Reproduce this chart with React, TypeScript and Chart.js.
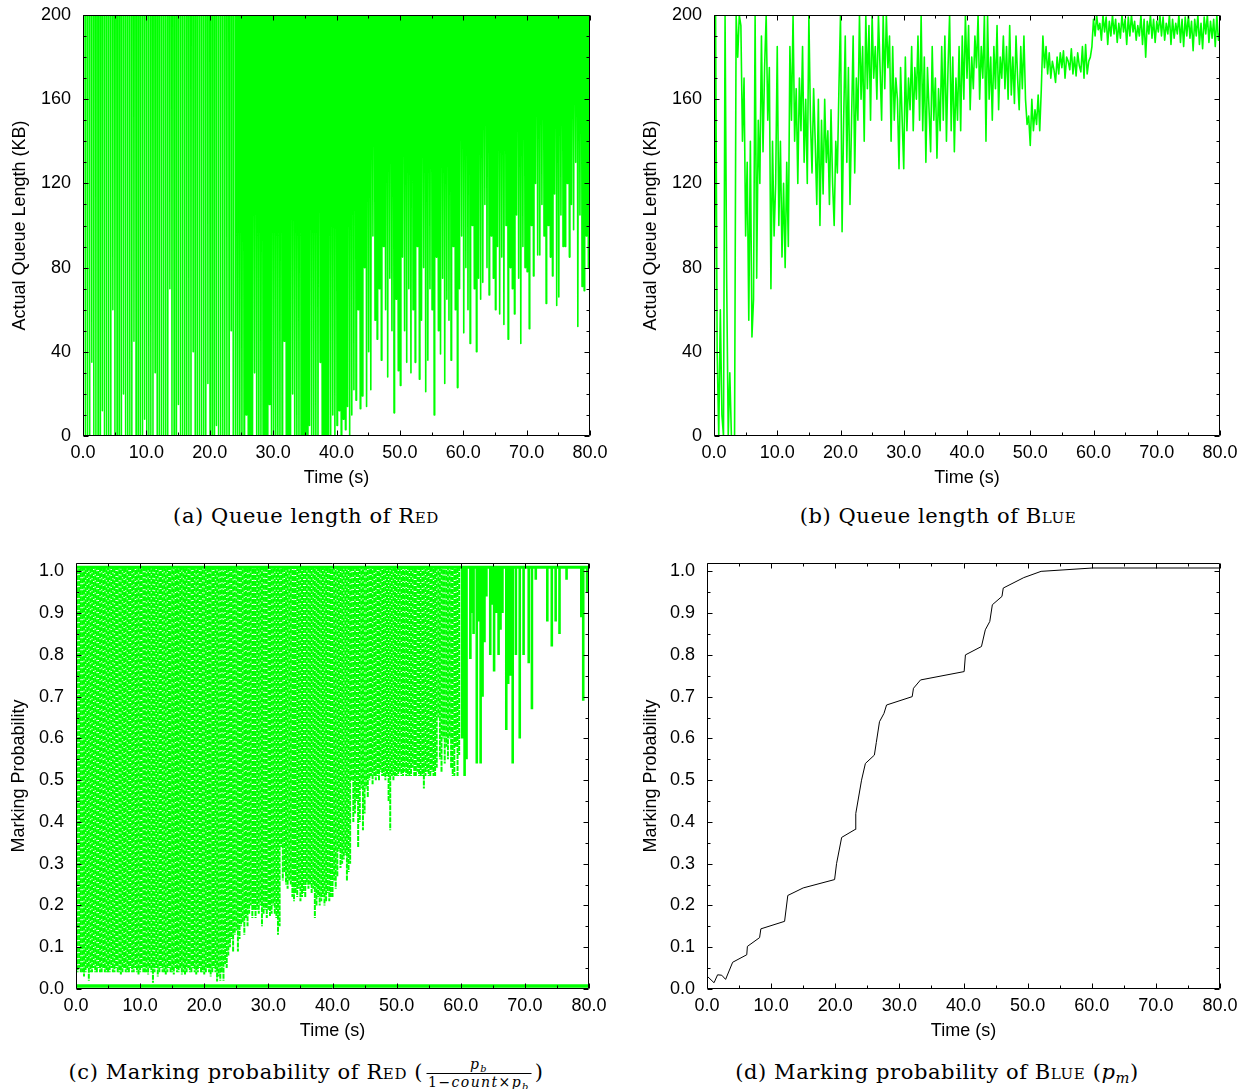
import React, { useEffect, useRef } from 'react';
import { Chart, registerables } from 'chart.js';

Chart.register(...registerables);

// ---------------- data ----------------
const GREEN = '#00ff00';
const TIME_TICKS = [0, 10, 20, 30, 40, 50, 60, 70, 80];
const QUEUE_TICKS = [0, 40, 80, 120, 160, 200];
const PROB_TICKS = [0, 0.1, 0.2, 0.3, 0.4, 0.5, 0.6, 0.7, 0.8, 0.9, 1.0];

// (a) RED queue: the queue fills the 200 KB buffer each cycle and drains to these troughs
const QUEUE_LIMIT = 200;
const RED_QUEUE_PERIOD = 1 / 3;
const RED_QUEUE_TROUGHS = [
  0, 0, 0, 0, 35, 0, 0, 0, 0, 12, 0, 0, 0, 0, 60, 0, 0, 0, 0, 20, 0, 0, 0, 0, 45, 0, 0, 0, 0, 8,
  0, 0, 0, 0, 30, 0, 0, 0, 0, 0, 0, 70, 0, 0, 0, 15, 0, 0, 0, 0, 0, 0, 40, 0, 0, 0, 0, 0, 0, 25,
  0, 0, 0, 5, 0, 0, 0, 0, 0, 0, 50, 0, 0, 0, 0, 0, 0, 10, 0, 0, 0, 30, 0, 0, 0, 0, 0, 0, 15, 0,
  0, 0, 0, 0, 0, 45, 0, 0, 0, 20, 0, 0, 0, 0, 0, 0, 0, 5, 0, 0, 0, 0, 35, 0, 0, 0, 0, 0, 10, 0,
  5, 12, 0, 8, 3, 14, 0, 10, 22, 17, 60, 13, 19, 80, 14, 40, 22, 95, 55, 46, 70, 36, 90, 60, 28, 75, 50, 11, 65, 31,
  24, 85, 50, 35, 70, 30, 60, 35, 90, 27, 55, 80, 21, 36, 70, 60, 10, 85, 50, 39, 75, 25, 65, 55, 36, 90, 60, 23, 70, 95,
  49, 80, 60, 44, 100, 70, 40, 75, 65, 73, 110, 80, 67, 95, 75, 60, 90, 58, 85, 53, 100, 46, 80, 70, 58, 105, 75, 44, 90, 80,
  78, 51, 100, 76, 120, 86, 86, 110, 95, 63, 100, 85, 76, 115, 62, 66, 105, 90, 90, 120, 85, 110, 98, 130, 52, 105, 71, 69, 95, 80,
];
const RED_QUEUE_SPLIT = 24; // s: early cycles are sparser than later ones

// (b) BLUE queue, sampled every 0.25 s
const BLUE_QUEUE_DT = 0.25;
const BLUE_QUEUE = [
  0, 200, 40, 0, 60, 10, 0, 200, 75, 0, 30, 0, 0, 0, 200, 180,
  200, 195, 140, 170, 95, 130, 55, 140, 47, 65, 200, 75, 150, 120, 190, 135,
  175, 200, 150, 175, 70, 140, 95, 120, 185, 100, 140, 85, 120, 80, 130, 90,
  185, 150, 200, 140, 165, 120, 170, 145, 185, 130, 160, 120, 200, 150, 125, 165,
  140, 110, 160, 100, 150, 115, 160, 130, 145, 110, 155, 120, 100, 140, 125, 165,
  200, 97, 150, 190, 130, 175, 110, 150, 190, 125, 170, 150, 200, 160, 185, 140,
  200, 165, 195, 150, 200, 170, 185, 160, 200, 175, 150, 200, 165, 200, 175, 190,
  140, 185, 150, 170, 160, 127, 175, 150, 127, 180, 145, 170, 155, 185, 145, 175,
  160, 190, 150, 200, 145, 180, 130, 175, 155, 135, 185, 150, 170, 132, 165, 145,
  185, 150, 190, 140, 175, 200, 145, 180, 135, 170, 150, 185, 145, 190, 160, 200,
  170, 195, 155, 180, 165, 190, 175, 200, 160, 185, 170, 200, 140, 200, 160, 180,
  150, 185, 165, 195, 155, 180, 170, 190, 165, 185, 160, 195, 162, 180, 158, 190,
  170, 155, 185, 165, 190, 160, 148, 152, 138, 160, 145, 155, 148, 162, 145, 165,
  190, 175, 185, 172, 182, 170, 178, 174, 168, 180, 172, 182, 175, 183, 170, 180,
  178, 174, 184, 172, 180, 171, 182, 176, 173, 185, 170, 186, 172, 178, 180, 185,
  198, 190, 200, 193, 196, 188, 200, 192, 199, 186, 197, 190, 200, 191, 198, 187,
  196, 189, 200, 192, 198, 186, 199, 190, 200, 192, 197, 188, 195, 190, 200, 186,
  198, 180, 197, 191, 200, 189, 198, 187, 197, 192, 200, 190, 199, 188, 196, 191,
  200, 186, 198, 189, 196, 191, 200, 187, 198, 185, 199, 190, 200, 189, 197, 183,
  198, 190, 200, 186, 196, 184, 199, 191, 200, 187, 197, 189, 198, 185, 200, 188,
  192,
];

// (c) RED marking probability: each burst climbs from its start value up to the cap
const RED_PROB_CAP = 1.01;
const RED_PROB_FLOOR = 0.007;
const RED_PROB_DT = 0.25;
const RED_PROB_DENSE_LOWS = [
  0.04, 0.04, 0.05, 0.04, 0.04, 0.03, 0.04, 0.05, 0.02, 0.04, 0.04, 0.05, 0.04, 0.04, 0.05, 0.04,
  0.04, 0.05, 0.04, 0.04, 0.04, 0.04, 0.05, 0.04, 0.04, 0.05, 0.04, 0.04, 0.035, 0.04, 0.05, 0.04,
  0.04, 0.04, 0.05, 0.04, 0.04, 0.05, 0.04, 0.035, 0.04, 0.05, 0.04, 0.04, 0.04, 0.035, 0.05, 0.04,
  0.015, 0.04, 0.05, 0.03, 0.04, 0.05, 0.04, 0.04, 0.035, 0.04, 0.05, 0.04, 0.04, 0.035, 0.05, 0.04,
  0.04, 0.05, 0.035, 0.04, 0.035, 0.04, 0.05, 0.04, 0.04, 0.05, 0.04, 0.035, 0.04, 0.05, 0.04, 0.04,
  0.035, 0.04, 0.05, 0.04, 0.03, 0.04, 0.05, 0.04, 0.018, 0.03, 0.02, 0.04, 0.02, 0.06, 0.05, 0.08,
  0.10, 0.12, 0.09, 0.13, 0.14, 0.09, 0.12, 0.15, 0.16, 0.13, 0.17, 0.15, 0.18, 0.20, 0.17, 0.19,
  0.17, 0.19, 0.18, 0.2, 0.15, 0.18, 0.19, 0.17, 0.19, 0.175, 0.18, 0.2, 0.18, 0.17, 0.13, 0.15,
  0.34, 0.26, 0.28, 0.25, 0.24, 0.26, 0.25, 0.22, 0.21, 0.23, 0.22, 0.24, 0.21, 0.22, 0.23, 0.22,
  0.25, 0.24, 0.25, 0.23, 0.24, 0.17, 0.2, 0.22, 0.2, 0.21, 0.22, 0.2, 0.21, 0.23, 0.21, 0.22,
  0.22, 0.26, 0.24, 0.27, 0.33, 0.29, 0.3, 0.31, 0.32, 0.26, 0.28, 0.3, 0.5, 0.4, 0.42, 0.45,
  0.34, 0.4, 0.48, 0.38, 0.42, 0.48, 0.46, 0.5, 0.51, 0.49, 0.51, 0.5, 0.51, 0.5, 0.52, 0.51,
  0.51, 0.5, 0.51, 0.45, 0.38, 0.51, 0.5, 0.51, 0.51, 0.51, 0.52, 0.51, 0.51, 0.52, 0.51, 0.51,
  0.51, 0.51, 0.53, 0.51, 0.51, 0.52, 0.51, 0.51, 0.51, 0.48, 0.51, 0.52, 0.51, 0.51, 0.52, 0.51,
  0.51, 0.53, 0.65, 0.55, 0.52, 0.6, 0.54, 0.58, 0.55, 0.6, 0.53, 0.51, 0.51, 0.58, 0.51, 0.56,
];
const RED_PROB_SPARSE_TIMES = [
  60.2, 60.6, 60.9, 61.5, 61.8, 62.0, 62.5, 62.8, 63.1, 63.4, 63.7, 64.0, 64.6, 64.9, 65.2, 65.6,
  65.9, 66.2, 66.5, 67.1, 67.4, 67.7, 68.1, 68.6, 69.2, 69.8, 70.6, 71.1, 71.7, 73.5, 74.2, 74.8,
  75.4, 76.5, 78.8, 79.1, 79.7,
];
const RED_PROB_SPARSE_LOWS = [
  0.60, 0.51, 0.55, 0.79, 0.90, 0.85, 0.54, 0.88, 0.54, 0.70, 0.83, 0.94, 0.80, 0.92, 0.76, 0.90,
  0.80, 0.86, 0.90, 0.62, 0.73, 0.75, 0.54, 0.80, 0.60, 0.80, 0.78, 0.67, 0.98, 0.88, 0.82, 0.88,
  0.85, 0.98, 0.89, 0.69, 0.95,
];

// (d) BLUE marking probability p_m
const BLUE_PM_TIMES = [
  0, 1.1, 1.65, 2.3, 2.9, 4.0, 6.2, 6.3, 8.2, 8.4, 12.1, 12.6, 15.0, 19.9, 20.2, 21.0, 23.1, 23.2, 24.1, 24.7,
  26.1, 26.4, 26.9, 27.6, 28.0, 32.0, 32.2, 33.3, 40.1, 40.3, 42.8, 43.4, 44.1, 44.5, 46.0, 46.2, 49.4, 52.1, 60.1, 80,
];
const BLUE_PM = [
  0.031, 0.015, 0.034, 0.033, 0.023, 0.064, 0.082, 0.102, 0.123, 0.144, 0.162, 0.224, 0.242, 0.262, 0.30, 0.363, 0.382, 0.42, 0.50, 0.54,
  0.56, 0.59, 0.64, 0.66, 0.68, 0.70, 0.72, 0.74, 0.76, 0.80, 0.82, 0.86, 0.88, 0.92, 0.94, 0.96, 0.985, 1.0, 1.008, 1.008,
];

// ---------------- dataset builders ----------------
type Pt = { x: number; y: number | null };

const redQueueData = (from: number, to: number, drain: number): Pt[] => {
  const out: Pt[] = [];
  RED_QUEUE_TROUGHS.forEach((lo, i) => {
    const t = i * RED_QUEUE_PERIOD;
    if (t < from || t >= to) return;
    out.push({ x: t, y: QUEUE_LIMIT });
    out.push({ x: t + drain / 2, y: lo });
    out.push({ x: t + drain, y: QUEUE_LIMIT });
  });
  return out;
};

const blueQueueData = (): Pt[] => BLUE_QUEUE.map((v, i) => ({ x: i * BLUE_QUEUE_DT, y: v }));

const stripes = (times: number[], lows: number[]): Pt[] => {
  const out: Pt[] = [];
  lows.forEach((lo, i) => {
    const t = times[i];
    out.push({ x: t, y: lo }, { x: t, y: RED_PROB_CAP }, { x: t, y: null });
  });
  return out;
};

const line = (data: Pt[], color: string, width: number, extra: any = {}) => ({
  data,
  borderColor: color,
  backgroundColor: color,
  borderWidth: width,
  pointRadius: 0,
  fill: false,
  tension: 0,
  spanGaps: false,
  borderJoinStyle: 'round',
  ...extra,
});

// dotted look of the stacked marking-probability points: vary the dash phase per stripe
const stripeDashOffset = (ctx: any) => {
  const k = Math.floor(ctx.p0DataIndex / 3);
  return (k * k * 7 + k * 3) % 13;
};

// ---------------- gnuplot-like frame ----------------
const gnuFrame = {
  id: 'gnuFrame',
  afterDatasetsDraw(chart: any) {
    const o = chart.options.plugins.gnuFrame;
    const { ctx, chartArea: a } = chart;
    const xs = chart.scales.x;
    const ys = chart.scales.y;
    const L = Math.round(a.left) + 0.5;
    const R = Math.round(a.right) - 0.5;
    const T = Math.round(a.top) + 0.5;
    const B = Math.round(a.bottom) - 0.5;
    ctx.save();
    ctx.strokeStyle = '#000';
    ctx.lineWidth = 1;
    ctx.beginPath();
    ctx.rect(L, T, R - L, B - T);
    const steps = (max: number, step: number) => {
      const r: number[] = [];
      for (let k = 0; k * step <= max + 1e-9; k++) r.push(+(k * step).toFixed(6));
      return r;
    };
    const isMajor = (v: number, majors: number[]) => majors.some((m) => Math.abs(m - v) < 1e-6);
    steps(o.xMax, o.xMinor).forEach((v) => {
      const len = isMajor(v, o.xMajor) ? 5 : 3;
      const px = Math.round(xs.getPixelForValue(v)) + 0.5;
      ctx.moveTo(px, B);
      ctx.lineTo(px, B - len);
      ctx.moveTo(px, T);
      ctx.lineTo(px, T + len);
    });
    steps(o.yMax, o.yMinor).forEach((v) => {
      const len = isMajor(v, o.yMajor) ? 5 : 3;
      const py = Math.round(ys.getPixelForValue(v)) + 0.5;
      ctx.moveTo(L, py);
      ctx.lineTo(L + len, py);
      ctx.moveTo(R, py);
      ctx.lineTo(R - len, py);
    });
    ctx.stroke();
    ctx.restore();
  },
};

// ---------------- panels ----------------
const FONT = { family: '"Liberation Sans", Arial, sans-serif', size: 18 };

type Spec = {
  key: string;
  left: number;
  top: number;
  w: number;
  h: number;
  area: { left: number; top: number; right: number; bottom: number };
  datasets: any[];
  yMax: number;
  yTicks: number[];
  yMinor: number;
  yDecimals: number;
  yTitle: string;
  yTitlePad: number;
  xTitlePad: number;
};

const SPECS: Spec[] = [
  {
    key: 'a', left: 0, top: 0, w: 620, h: 500,
    area: { left: 83, top: 15, right: 590, bottom: 436 },
    datasets: [
      line(redQueueData(0, RED_QUEUE_SPLIT, 0.08), GREEN, 1.5),
      line(redQueueData(RED_QUEUE_SPLIT, 81, 0.16), GREEN, 1.6),
    ],
    yMax: 200, yTicks: QUEUE_TICKS, yMinor: 10, yDecimals: 0,
    yTitle: 'Actual Queue Length (KB)', yTitlePad: 9, xTitlePad: 11,
  },
  {
    key: 'b', left: 630, top: 0, w: 616, h: 500,
    area: { left: 84, top: 15, right: 590, bottom: 436 },
    datasets: [line(blueQueueData(), GREEN, 1.6)],
    yMax: 200, yTicks: QUEUE_TICKS, yMinor: 10, yDecimals: 0,
    yTitle: 'Actual Queue Length (KB)', yTitlePad: 10, xTitlePad: 11,
  },
  {
    key: 'c', left: 0, top: 545, w: 620, h: 500,
    area: { left: 76, top: 18, right: 589, bottom: 444 },
    datasets: [
      line(
        stripes(RED_PROB_DENSE_LOWS.map((_, i) => i * RED_PROB_DT), RED_PROB_DENSE_LOWS),
        GREEN, 2.0,
        { borderDash: [5, 1], segment: { borderDashOffset: stripeDashOffset } }
      ),
      line(stripes(RED_PROB_SPARSE_TIMES, RED_PROB_SPARSE_LOWS), GREEN, 2.6),
      line([{ x: 0, y: RED_PROB_CAP }, { x: 80, y: RED_PROB_CAP }], GREEN, 3),
      line([{ x: 0, y: RED_PROB_FLOOR }, { x: 80, y: RED_PROB_FLOOR }], GREEN, 3.5),
    ],
    yMax: 1.02, yTicks: PROB_TICKS, yMinor: 0.05, yDecimals: 1,
    yTitle: 'Marking Probability', yTitlePad: 8, xTitlePad: 3,
  },
  {
    key: 'd', left: 630, top: 545, w: 616, h: 500,
    area: { left: 77, top: 18, right: 590, bottom: 444 },
    datasets: [line(BLUE_PM_TIMES.map((t, i) => ({ x: t, y: BLUE_PM[i] })), '#000', 1)],
    yMax: 1.02, yTicks: PROB_TICKS, yMinor: 0.05, yDecimals: 1,
    yTitle: 'Marking Probability', yTitlePad: 10, xTitlePad: 3,
  },
];

function Panel({ spec }: { spec: Spec }) {
  const ref = useRef<HTMLCanvasElement | null>(null);
  useEffect(() => {
    const canvas = ref.current;
    if (!canvas) return;
    const s = spec;
    const chart = new Chart(canvas, {
      type: 'line',
      data: { datasets: s.datasets },
      plugins: [gnuFrame],
      options: {
        animation: false,
        responsive: false,
        maintainAspectRatio: false,
        devicePixelRatio: 1,
        events: [],
        layout: {
          autoPadding: false,
          padding: { left: 0, top: s.area.top, right: s.w - s.area.right, bottom: 0 },
        },
        plugins: {
          legend: { display: false },
          tooltip: { enabled: false },
          gnuFrame: {
            xMax: 80, xMinor: 5, xMajor: TIME_TICKS,
            yMax: s.yMax, yMinor: s.yMinor, yMajor: s.yTicks,
          },
        } as any,
        scales: {
          x: {
            type: 'linear',
            min: 0,
            max: 80,
            grid: { display: false, drawTicks: false },
            border: { display: false },
            afterBuildTicks: (sc: any) => { sc.ticks = TIME_TICKS.map((v) => ({ value: v })); },
            afterFit: (sc: any) => {
              sc.height = s.h - s.area.bottom;
              sc.paddingLeft = 0;
              sc.paddingRight = 0;
              sc.paddingTop = 0;
              sc.paddingBottom = 0;
            },
            ticks: {
              font: FONT, color: '#000', padding: 6, maxRotation: 0, autoSkip: false,
              callback: (v: any) => Number(v).toFixed(1),
            },
            title: { display: true, text: 'Time (s)', font: FONT, color: '#000', padding: { top: 0, bottom: s.xTitlePad } },
          },
          y: {
            type: 'linear',
            min: 0,
            max: s.yMax,
            grid: { display: false, drawTicks: false },
            border: { display: false },
            afterBuildTicks: (sc: any) => { sc.ticks = s.yTicks.map((v) => ({ value: v })); },
            afterFit: (sc: any) => {
              sc.width = s.area.left;
              sc.paddingTop = 0;
              sc.paddingBottom = 0;
              sc.paddingLeft = 0;
              sc.paddingRight = 0;
            },
            ticks: {
              font: FONT, color: '#000', padding: 12,
              callback: (v: any) => Number(v).toFixed(s.yDecimals),
            },
            title: { display: true, text: s.yTitle, font: FONT, color: '#000', padding: { top: s.yTitlePad, bottom: 0 } },
          },
        },
      } as any,
    });
    return () => chart.destroy();
  }, [spec]);
  return (
    <canvas
      ref={ref}
      width={spec.w}
      height={spec.h}
      style={{ position: 'absolute', left: spec.left, top: spec.top, width: spec.w, height: spec.h }}
    />
  );
}

const capStyle = (cx: number, cy: number): React.CSSProperties => ({
  position: 'absolute',
  left: cx,
  top: cy - 15,
  transform: 'translateX(-50%)',
  whiteSpace: 'nowrap',
  fontFamily: '"DejaVu Serif", "Liberation Serif", serif',
  fontSize: 21,
  lineHeight: '30px',
  letterSpacing: '0.6px',
  color: '#000',
});

const SC = ({ children }: { children: React.ReactNode }) => (
  <span style={{ fontVariant: 'small-caps' }}>{children}</span>
);

const subStyle: React.CSSProperties = { fontSize: '0.7em', verticalAlign: '-0.3em', lineHeight: 0, fontStyle: 'italic' };

export default function App() {
  return (
    <div style={{ position: 'absolute', left: 0, top: 0, width: 1246, height: 1089, background: '#fff', overflow: 'hidden' }}>
      {SPECS.map((s) => (
        <Panel key={s.key} spec={s} />
      ))}
      <div style={capStyle(306, 516)}>(a) Queue length of <SC>Red</SC></div>
      <div style={capStyle(938, 516)}>(b) Queue length of <SC>Blue</SC></div>
      <div style={capStyle(306, 1072)}>
        (c) Marking probability of <SC>Red</SC> (
        <span
          style={{
            display: 'inline-flex', flexDirection: 'column', alignItems: 'center', verticalAlign: 'middle',
            fontSize: 14, lineHeight: '15px', letterSpacing: '1.4px', margin: '0 3px',
          }}
        >
          <span style={{ fontStyle: 'italic', paddingBottom: 1 }}>p<span style={subStyle}>b</span></span>
          <span style={{ borderTop: '1px solid #000', padding: '1px 2px 0' }}>
            1−<i>count</i>×<i>p</i><span style={subStyle}>b</span>
          </span>
        </span>
        )
      </div>
      <div style={capStyle(937, 1072)}>
        (d) Marking probability of <SC>Blue</SC> (<i>p</i><span style={{ ...subStyle, fontSize: '0.7em' }}>m</span>)
      </div>
    </div>
  );
}
